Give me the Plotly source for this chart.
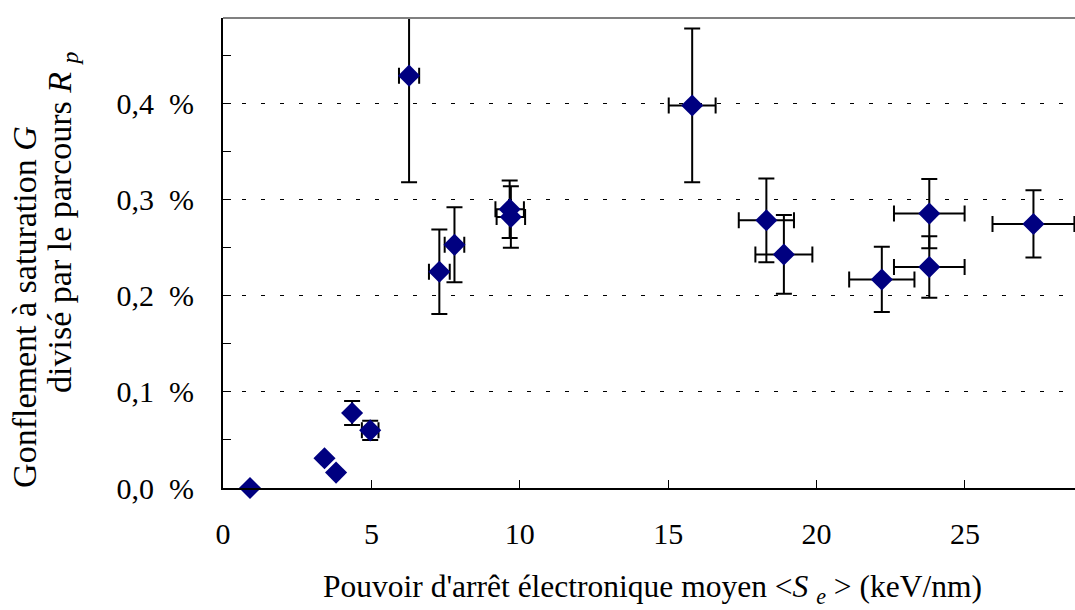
import plotly.graph_objects as go

# Points without error bars
x_plain = [0.91, 3.42, 3.81]
y_plain = [0.000, 0.031, 0.016]

# Points with error bars
x_err = [4.35, 4.96, 7.29, 7.80, 9.66, 9.70, 6.27, 15.81, 18.31, 18.90, 22.20, 23.80, 23.80, 27.31]
y_err = [0.078, 0.060, 0.225, 0.253, 0.290, 0.282, 0.429, 0.398, 0.2785, 0.243, 0.217, 0.2855, 0.230, 0.2747]
dx = [0.0, 0.28, 0.35, 0.33, 0.48, 0.48, 0.34, 0.79, 0.93, 0.96, 1.10, 1.19, 1.19, 1.38]
dy = [0.0125, 0.010, 0.044, 0.039, 0.030, 0.032, 0.111, 0.080, 0.0435, 0.041, 0.034, 0.036, 0.032, 0.035]

x_ticks = [0, 5, 10, 15, 20, 25]
y_ticks = [0.0, 0.1, 0.2, 0.3, 0.4]
y_ticktext = ["0,0  %", "0,1  %", "0,2  %", "0,3  %", "0,4  %"]

FONT = '"Liberation Serif", "Times New Roman", serif'
NAVY = "#000080"

fig = go.Figure()
fig.add_trace(go.Scatter(
    x=x_err, y=y_err, mode="markers",
    marker=dict(symbol="diamond", size=17, color=NAVY),
    error_x=dict(type="data", array=dx, color="black", thickness=2, width=8),
    error_y=dict(type="data", array=dy, color="black", thickness=2, width=8),
    cliponaxis=False, showlegend=False,
))
fig.add_trace(go.Scatter(
    x=x_plain, y=y_plain, mode="markers",
    marker=dict(symbol="diamond", size=17, color=NAVY),
    cliponaxis=False, showlegend=False,
))

fig.update_layout(
    width=1075, height=610,
    margin=dict(l=223, r=0, t=18, b=122),
    paper_bgcolor="white", plot_bgcolor="white",
    font=dict(family=FONT, size=30, color="black"),
    xaxis=dict(
        range=[0, 28.71], tickvals=x_ticks, ticks="inside", ticklen=8, tickwidth=1,
        tickcolor="black", showgrid=False, zeroline=False,
        showline=True, linecolor="black", linewidth=2,
        tickfont=dict(family=FONT, size=30), ticklabelstandoff=18,
    ),
    yaxis=dict(
        range=[0, 0.489], tickvals=y_ticks, ticktext=y_ticktext,
        ticks="inside", ticklen=8, tickwidth=1, tickcolor="black",
        showgrid=True, gridcolor="black", gridwidth=1, griddash="4px,15px",
        zeroline=False, showline=True, linecolor="black", linewidth=2,
        tickfont=dict(family=FONT, size=30), ticklabelstandoff=21,
        minor=dict(dtick=0.05, tick0=0, ticks="inside", ticklen=8, tickwidth=1,
                   tickcolor="black", showgrid=False),
    ),
    shapes=[dict(type="line", xref="paper", yref="paper", x0=0, x1=1, y0=1, y1=1,
                 line=dict(color="#808080", width=2))],
    annotations=[
        dict(text="Pouvoir d'arrêt électronique moyen &lt;<i>S</i> <sub><i>e</i></sub> &gt; (keV/nm)",
             xref="paper", yref="paper", x=0.5045, y=-0.2150, xanchor="center", yanchor="middle",
             showarrow=False, font=dict(family=FONT, size=31.5)),
        dict(text="Gonflement à saturation <i>G</i>",
             xref="paper", yref="paper", x=-0.2324, y=-0.004, xanchor="center", yanchor="bottom",
             textangle=-90, showarrow=False, font=dict(family=FONT, size=34)),
        dict(text="divisé par le parcours <i>R</i> <sub><i>p</i></sub>",
             xref="paper", yref="paper", x=-0.189, y=0.198, xanchor="center", yanchor="bottom",
             textangle=-90, showarrow=False, font=dict(family=FONT, size=34)),
    ],
)

fig.write_html("out.html", post_script="document.body.style.margin='0';",
               config={"displayModeBar": False})
